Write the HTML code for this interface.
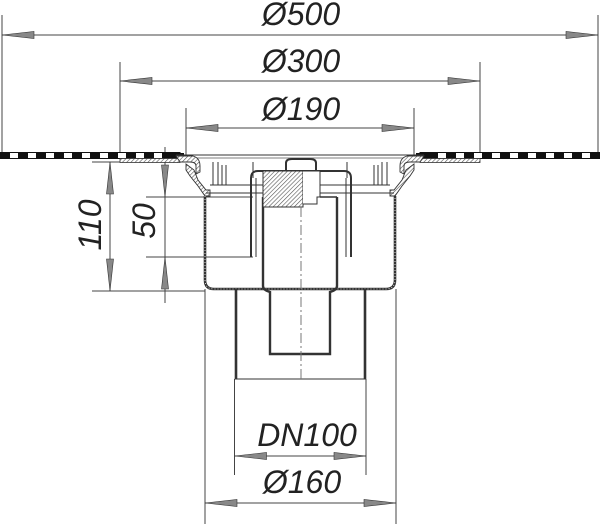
<!DOCTYPE html>
<html><head><meta charset="utf-8"><style>
html,body{margin:0;padding:0;background:#fff;width:600px;height:524px;overflow:hidden}
svg{display:block}
text{font-family:"Liberation Sans",sans-serif;font-style:italic;font-size:32px;fill:#222}
</style></head><body>
<svg width="600" height="524" viewBox="0 0 600 524" xmlns="http://www.w3.org/2000/svg">
<defs>
<pattern id="h" width="3" height="3" patternUnits="userSpaceOnUse" patternTransform="rotate(45)"><rect width="3" height="3" fill="#fff"/><line x1="0" y1="0" x2="0" y2="3" stroke="#555" stroke-width="1.2"/></pattern>
<g id="ar"><polygon points="0,0 32,-3.5 32,3.5" fill="#888" stroke="#333" stroke-width="0.6"/></g>
</defs>
<g stroke="#444" stroke-width="1" fill="none">
<line x1="2" y1="15" x2="2" y2="153"/><line x1="598" y1="15" x2="598" y2="153"/>
<line x1="120" y1="62" x2="120" y2="153"/><line x1="480" y1="62" x2="480" y2="153"/>
<line x1="186" y1="108" x2="186" y2="158"/><line x1="414" y1="108" x2="414" y2="158"/>
<line x1="2" y1="35" x2="598" y2="35"/>
<line x1="120" y1="81" x2="480" y2="81"/>
<line x1="186" y1="128" x2="414" y2="128"/>
<line x1="110" y1="162" x2="110" y2="291"/>
<line x1="92" y1="162" x2="160" y2="162"/>
<line x1="92" y1="291" x2="205" y2="291"/>
<line x1="165" y1="147" x2="165" y2="303"/>
<line x1="146" y1="197" x2="253" y2="197"/>
<line x1="146" y1="257" x2="253" y2="257"/>
<line x1="234.5" y1="379" x2="234.5" y2="475"/><line x1="366" y1="379" x2="366" y2="475"/>
<line x1="234.5" y1="456" x2="366" y2="456"/>
<line x1="205" y1="289" x2="205" y2="524"/><line x1="396" y1="289" x2="396" y2="524"/>
<line x1="205" y1="503" x2="396" y2="503"/>
</g>
<use href="#ar" transform="translate(2,35)"/><use href="#ar" transform="translate(598,35) rotate(180)"/>
<use href="#ar" transform="translate(120,81)"/><use href="#ar" transform="translate(480,81) rotate(180)"/>
<use href="#ar" transform="translate(186,128)"/><use href="#ar" transform="translate(414,128) rotate(180)"/>
<use href="#ar" transform="translate(110,162) rotate(90)"/><use href="#ar" transform="translate(110,291) rotate(-90)"/>
<use href="#ar" transform="translate(165,197) rotate(-90)"/><use href="#ar" transform="translate(165,257) rotate(90)"/>
<use href="#ar" transform="translate(234.5,456)"/><use href="#ar" transform="translate(366,456) rotate(180)"/>
<use href="#ar" transform="translate(205,503)"/><use href="#ar" transform="translate(396,503) rotate(180)"/>
<rect x="0" y="152.5" width="180" height="6" fill="#fff" stroke="#111" stroke-width="1"/>
<line x1="0" y1="155.5" x2="180" y2="155.5" stroke="#111" stroke-width="5" stroke-dasharray="10 8"/>
<rect x="420" y="152.5" width="180" height="6" fill="#fff" stroke="#111" stroke-width="1"/>
<line x1="600" y1="155.5" x2="420" y2="155.5" stroke="#111" stroke-width="5" stroke-dasharray="10 8"/>
<rect x="170" y="153" width="14" height="5" fill="#111"/>
<rect x="416" y="153" width="14" height="5" fill="#111"/>
<rect x="120" y="158.5" width="60" height="4" fill="url(#h)" stroke="#333" stroke-width="0.8"/>
<rect x="420" y="158.5" width="60" height="4" fill="url(#h)" stroke="#333" stroke-width="0.8"/>
<line x1="176" y1="155" x2="424" y2="155" stroke="#333" stroke-width="1"/>
<line x1="195" y1="158" x2="405" y2="158" stroke="#555" stroke-width="0.8"/>
<g fill="url(#h)" stroke="#333" stroke-width="0.9">
<path d="M176,156 L193,156 Q200,158 200,166 L200,172 L196,174 L196,166 Q196,162 190,162 L180,162 Z"/>
<path d="M186,164 L194,170 L198,180 L206,190 L210,190 L210,196 L205,196 L198,186 L190,176 L186,170 Z"/>
<path d="M424,156 L407,156 Q400,158 400,166 L400,172 L404,174 L404,166 Q404,162 410,162 L420,162 Z"/>
<path d="M414,164 L406,170 L402,180 L394,190 L390,190 L390,196 L395,196 L402,186 L410,176 L414,170 Z"/>
</g>
<g stroke="#333" stroke-width="1" fill="none">
<line x1="206" y1="193" x2="394" y2="193"/>
<line x1="210" y1="185" x2="390" y2="185"/>
<line x1="213" y1="162" x2="213" y2="185"/><line x1="218" y1="162" x2="218" y2="185"/>
<line x1="222" y1="165" x2="222" y2="185"/><line x1="226" y1="165" x2="226" y2="185"/>
<line x1="253" y1="162" x2="253" y2="178"/><line x1="347" y1="162" x2="347" y2="178"/>
<line x1="374" y1="165" x2="374" y2="185"/><line x1="378" y1="165" x2="378" y2="185"/>
<line x1="382" y1="162" x2="382" y2="185"/><line x1="387" y1="162" x2="387" y2="185"/>
</g>
<path d="M205,196 L205,280 Q205,289 214,289 L386,289 Q395,289 395,280 L395,196" fill="none" stroke="#333" stroke-width="2.6"/>
<path d="M205,196 L205,280 Q205,289 214,289 L386,289 Q395,289 395,280 L395,196" fill="none" stroke="#fff" stroke-width="0.8" stroke-dasharray="1 2"/>
<path d="M236,289 L236,379 M365,289 L365,379" stroke="#333" stroke-width="2.6"/>
<line x1="234.5" y1="379" x2="366" y2="379" stroke="#333" stroke-width="1"/>
<path d="M263,197 L263,286 Q263,290 270,292 L270,354 L330,354 L330,292 Q337,290 337,286 L337,197" fill="none" stroke="#333" stroke-width="2.4"/>
<path d="M251,257 L251,178 Q251,171 258,171 L344,171 Q351,171 351,178 L351,257" fill="none" stroke="#333" stroke-width="2"/>
<line x1="256" y1="178" x2="256" y2="257" stroke="#333" stroke-width="1"/>
<line x1="346" y1="178" x2="346" y2="257" stroke="#333" stroke-width="1"/>
<path d="M286,171 L286,163 Q286,159 292,159 L310,159 Q316,159 316,163 L316,171" fill="none" stroke="#333" stroke-width="2"/>
<rect x="263" y="171" width="40" height="36" fill="url(#h)" stroke="#333" stroke-width="1"/>
<path d="M303,171 L320,171 L320,197 L317,197 L317,204 L303,204" fill="#fff" stroke="#333" stroke-width="1"/>
<path d="M320,197 L337,197" stroke="#333" stroke-width="1.5"/>
<line x1="301" y1="207" x2="301" y2="379" stroke="#777" stroke-width="1" stroke-dasharray="10 3 2 3"/>
<text x="301" y="25" text-anchor="middle">Ø500</text>
<text x="301" y="72" text-anchor="middle">Ø300</text>
<text x="301" y="120" text-anchor="middle">Ø190</text>
<text x="307" y="446" text-anchor="middle">DN100</text>
<text x="302" y="493" text-anchor="middle">Ø160</text>
<text transform="translate(101,225) rotate(-90)" text-anchor="middle">110</text>
<text transform="translate(155,221) rotate(-90)" text-anchor="middle">50</text>
</svg>
</body></html>
